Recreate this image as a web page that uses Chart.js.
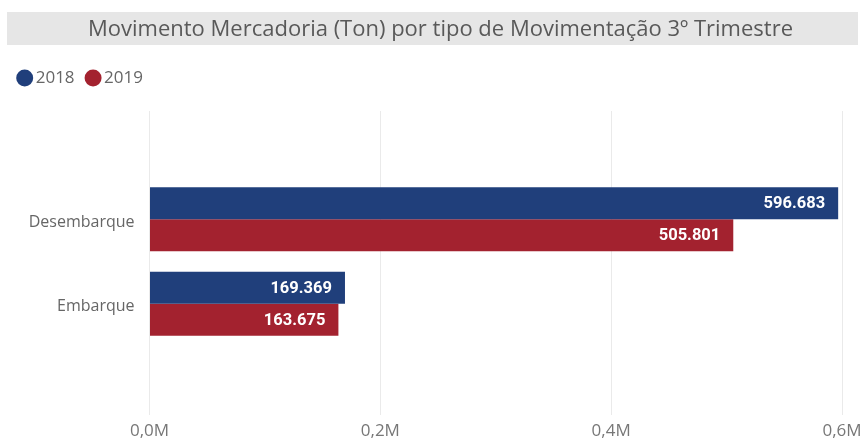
<!DOCTYPE html>
<html>
<head>
<meta charset="utf-8">
<script src="https://cdn.jsdelivr.net/npm/chart.js@4"></script>
<style>
  html, body { margin: 0; padding: 0; background: #ffffff; }
  #wrap { width: 863px; height: 441px; position: relative; }
</style>
</head>
<body>
<div id="wrap"><canvas id="c" width="863" height="441"></canvas></div>
<script>
// ---- data ----
const title = "Movimento Mercadoria (Ton) por tipo de Movimentação 3º Trimestre";
const categories = ["Desembarque", "Embarque"];
const seriesNames = ["2018", "2019"];
const values2018 = [596683, 169369];
const values2019 = [505801, 163675];
const xTickValues = [0, 200000, 400000, 600000];

const colors = ["#203F7B", "#A3222F"];
const fontFamily = "'Open Sans', 'Noto Sans', sans-serif";
const yMin = -1.283, yMax = 2.319;

function fmtThousands(v) {
  return String(Math.round(v)).replace(/\B(?=(\d{3})+(?!\d))/g, ".");
}
function fmtMillions(v) {
  return (v / 1e6).toFixed(1).replace(".", ",") + "M";
}

const titlePlugin = {
  id: "titleBar",
  beforeDraw(chart) {
    const ctx = chart.ctx;
    ctx.save();
    ctx.fillStyle = "#E6E6E6";
    ctx.fillRect(7, 12, 851, 33);
    ctx.fillStyle = "#595959";
    ctx.font = "22px " + fontFamily;
    ctx.textAlign = "center";
    ctx.textBaseline = "middle";
    ctx.fillText(title, 440.5, 30);
    ctx.restore();
  }
};

const legendHeightPlugin = {
  id: "legendHeight",
  beforeInit(chart) {
    const orig = chart.legend.fit;
    chart.legend.fit = function () {
      orig.bind(chart.legend)();
      this.height = 57.5;
    };
  }
};

const dataLabelPlugin = {
  id: "dataLabels",
  afterDatasetsDraw(chart) {
    const ctx = chart.ctx;
    ctx.save();
    ctx.fillStyle = "#FFFFFF";
    ctx.font = "bold 16.5px Roboto, 'DejaVu Sans', sans-serif";
    ctx.textAlign = "right";
    ctx.textBaseline = "middle";
    chart.data.datasets.forEach((ds, di) => {
      const meta = chart.getDatasetMeta(di);
      meta.data.forEach((el, i) => {
        ctx.fillText(fmtThousands(ds.data[i].x), el.x - 13, el.y + 1);
      });
    });
    ctx.restore();
  }
};

new Chart(document.getElementById("c"), {
  type: "bar",
  data: {
    datasets: [
      {
        label: seriesNames[0],
        data: values2018.map((v, i) => ({ x: v, y: i })),
        backgroundColor: colors[0]
      },
      {
        label: seriesNames[1],
        data: values2019.map((v, i) => ({ x: v, y: i })),
        backgroundColor: colors[1]
      }
    ]
  },
  options: {
    indexAxis: "y",
    responsive: false,
    animation: false,
    devicePixelRatio: 1,
    categoryPercentage: 0.758,
    barPercentage: 1.0,
    layout: { padding: { top: 53.5, left: 6.2, right: 21, bottom: 0 } },
    plugins: {
      title: { display: false },
      tooltip: { enabled: false },
      legend: {
        display: true,
        position: "top",
        align: "start",
        labels: {
          usePointStyle: true,
          pointStyle: "circle",
          boxWidth: 5,
          boxHeight: 12,
          padding: 16,
          color: "#666666",
          font: { family: fontFamily, size: 17 }
        }
      }
    },
    scales: {
      x: {
        type: "linear",
        min: 0,
        max: 600000,
        afterBuildTicks(s) { s.ticks = xTickValues.map(v => ({ value: v })); },
        grid: { color: "#EAEAEA", lineWidth: 1, drawTicks: false },
        border: { display: false },
        ticks: {
          color: "#777777",
          padding: 6,
          font: { family: fontFamily, size: 17 },
          callback: (v) => fmtMillions(v)
        },
        afterFit(s) { s.height = 26; s.paddingLeft = 0; s.paddingRight = 0; }
      },
      y: {
        type: "linear",
        reverse: true,
        offset: false,
        bounds: "data",
        min: yMin,
        max: yMax,
        afterBuildTicks(s) {
          s.ticks = categories.map((c, i) => ({ value: i }));
          s.min = yMin;
          s.max = yMax;
        },
        grid: { display: false, drawTicks: false, offset: false },
        border: { display: false },
        ticks: {
          color: "#666666",
          padding: 15,
          labelOffset: 3,
          font: { family: fontFamily, size: 16 },
          callback: (v) => categories[v]
        },
        afterFit(s) { s.width = 143.3; s.paddingTop = 0; s.paddingBottom = 0; }
      }
    }
  },
  plugins: [titlePlugin, legendHeightPlugin, dataLabelPlugin]
});
</script>
</body>
</html>
